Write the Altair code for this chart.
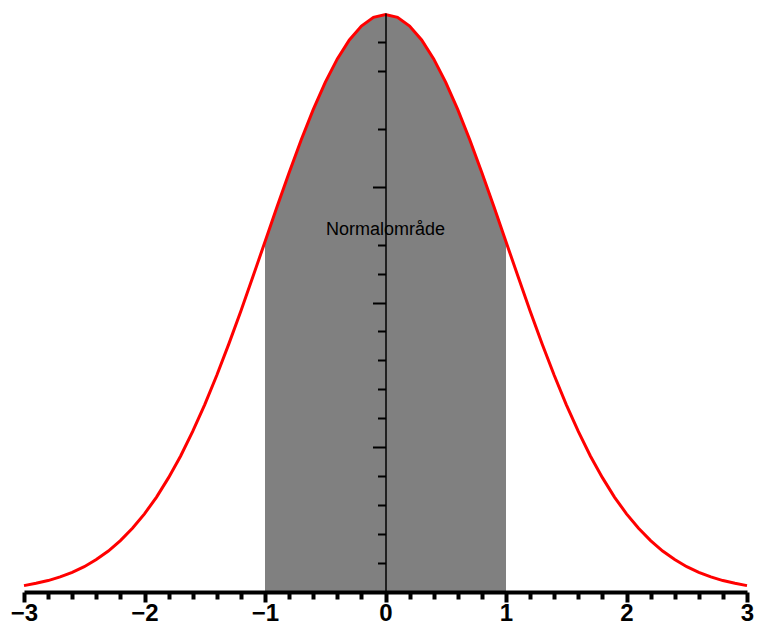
import altair as alt
import pandas as pd

# Curve (standard normal density shape), x in steps of 0.1
xs = [-3.0, -2.9, -2.8, -2.7, -2.6, -2.5, -2.4, -2.3, -2.2, -2.1,
      -2.0, -1.9, -1.8, -1.7, -1.6, -1.5, -1.4, -1.3, -1.2, -1.1,
      -1.0, -0.9, -0.8, -0.7, -0.6, -0.5, -0.4, -0.3, -0.2, -0.1,
      0.0, 0.1, 0.2, 0.3, 0.4, 0.5, 0.6, 0.7, 0.8, 0.9,
      1.0, 1.1, 1.2, 1.3, 1.4, 1.5, 1.6, 1.7, 1.8, 1.9,
      2.0, 2.1, 2.2, 2.3, 2.4, 2.5, 2.6, 2.7, 2.8, 2.9, 3.0]
ys = [0.0044, 0.0060, 0.0079, 0.0104, 0.0136, 0.0175, 0.0224, 0.0283, 0.0355, 0.0440,
      0.0540, 0.0656, 0.0790, 0.0940, 0.1109, 0.1295, 0.1497, 0.1714, 0.1942, 0.2179,
      0.2420, 0.2661, 0.2897, 0.3123, 0.3332, 0.3521, 0.3683, 0.3814, 0.3910, 0.3970,
      0.3989, 0.3970, 0.3910, 0.3814, 0.3683, 0.3521, 0.3332, 0.3123, 0.2897, 0.2661,
      0.2420, 0.2179, 0.1942, 0.1714, 0.1497, 0.1295, 0.1109, 0.0940, 0.0790, 0.0656,
      0.0540, 0.0440, 0.0355, 0.0283, 0.0224, 0.0175, 0.0136, 0.0104, 0.0079, 0.0060, 0.0044]

shade_from = -1.0
shade_to = 1.0

x_major = [-3, -2, -1, 0, 1, 2, 3]
x_minor = [-2.8, -2.6, -2.4, -2.2, -1.8, -1.6, -1.4, -1.2, -0.8, -0.6, -0.4, -0.2,
           0.2, 0.4, 0.6, 0.8, 1.2, 1.4, 1.6, 1.8, 2.2, 2.4, 2.6, 2.8]
y_major = [0.1, 0.2, 0.28]
y_minor = [0.02, 0.04, 0.06, 0.08, 0.12, 0.14, 0.16, 0.18, 0.22, 0.24, 0.32, 0.36, 0.38]

label_text = ["Normalområde"]
label_x = [0.0]
label_y = [0.25]

df = pd.DataFrame({"x": xs, "y": ys})
ldf = pd.DataFrame({"x": label_x, "y": label_y, "t": label_text})

xscale = alt.Scale(domain=[-3, 3], nice=False, zero=False)
yscale = alt.Scale(domain=[0, 0.4], nice=False)

W = 723
H = 579
y_axis_offset = -W / 2

major_x_axis = alt.Axis(orient="bottom", values=x_major, title=None, grid=False,
                        domainColor="black", domainWidth=4, tickColor="black",
                        tickWidth=4, tickSize=10, labelFont="Liberation Sans",
                        labelFontSize=24, labelFontWeight="bold", labelColor="black",
                        labelPadding=-1, labelFlush=False, labelOverlap=False, zindex=1)
minor_x_axis = alt.Axis(orient="bottom", values=x_minor, title=None, grid=False,
                        domain=False, labels=False, tickColor="black", tickWidth=4,
                        tickSize=7, zindex=1)
major_y_axis = alt.Axis(orient="left", values=y_major, title=None, grid=False,
                        domainColor="black", domainWidth=1.5, tickColor="black",
                        tickWidth=2, tickSize=13, labels=False, offset=y_axis_offset,
                        zindex=1)
minor_y_axis = alt.Axis(orient="left", values=y_minor, title=None, grid=False,
                        domain=False, labels=False, tickColor="black", tickWidth=2,
                        tickSize=8, offset=y_axis_offset, zindex=1)

area = alt.Chart(df).transform_filter(
    f"datum.x >= {shade_from} && datum.x <= {shade_to}"
).mark_area(color="#808080", opacity=1).encode(
    x=alt.X("x:Q", scale=xscale, axis=major_x_axis),
    y=alt.Y("y:Q", scale=yscale, axis=major_y_axis),
)

line = alt.Chart(df).mark_line(color="#ff0000", strokeWidth=3).encode(
    x=alt.X("x:Q", scale=xscale, axis=minor_x_axis),
    y=alt.Y("y:Q", scale=yscale, axis=minor_y_axis),
)

text = alt.Chart(ldf).mark_text(font="Liberation Sans", fontSize=18, color="black",
                                align="center", baseline="middle").encode(
    x=alt.X("x:Q", scale=xscale, axis=None),
    y=alt.Y("y:Q", scale=yscale, axis=None),
    text="t:N",
)

chart = alt.layer(area, line, text).resolve_axis(
    x="independent", y="independent"
).properties(
    width=W, height=H,
    autosize=alt.AutoSizeParams(type="none"),
    padding={"left": 16, "top": 5, "right": 8, "bottom": 35},
).configure(background="white").configure_view(stroke=None)

chart.save("out.html", embed_options={"renderer": "svg", "actions": False})
